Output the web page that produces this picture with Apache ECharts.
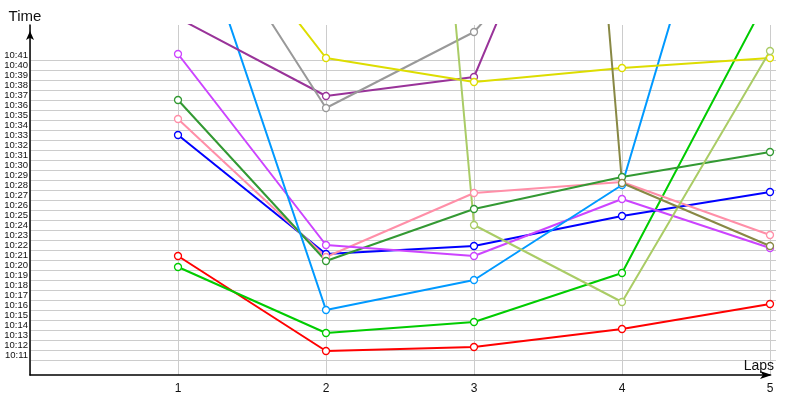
<!DOCTYPE html>
<html>
<head>
<meta charset="utf-8">
<script src="https://cdn.jsdelivr.net/npm/echarts@6/dist/echarts.min.js"></script>
<style>html,body{margin:0;padding:0;background:#fff;}#c{width:800px;height:400px;}</style>
</head>
<body>
<div id="c"></div>
<script>
// Lap numbers
var laps = [1, 2, 3, 4, 5];
// Lap times in seconds (10:41 = 641 s)
var red        = [620.9, 611.4, 611.8, 613.6, 616.1];
var green      = [619.8, 613.2, 614.3, 619.2, 647.2];
var blue       = [633.0, 621.1, 621.9, 624.9, 627.3];
var pink       = [634.6, 620.8, 627.2, 628.3, 623.0];
var darkGreen  = [636.5, 620.4, 625.6, 628.8, 631.3];
var magenta    = [641.1, 622.0, 620.9, 626.6, 621.7];
var lightBlue  = [659.4, 615.5, 618.5, 628.0, 677.8];
var purple     = [644.7, 636.9, 638.8, 674.0, 670.0];
var gray       = [658.8, 635.7, 643.3, 659.6, 655.0];
var yellow     = [659.8, 640.7, 638.3, 639.7, 640.7];
var lightGreen = [700.0, 786.8, 624.0, 616.3, 641.4];
var olive      = [760.0, 790.0, 804.3, 628.2, 621.9];
// Y tick label range (seconds)
var labelMin = 611, labelMax = 641;

var seriesDefs = [
  ['Red', red, '#ff0000'],
  ['Green', green, '#00cc00'],
  ['Blue', blue, '#0000ff'],
  ['Pink', pink, '#ff8fa8'],
  ['Dark green', darkGreen, '#339933'],
  ['Magenta', magenta, '#cc44ff'],
  ['Light blue', lightBlue, '#0099ff'],
  ['Purple', purple, '#993399'],
  ['Gray', gray, '#999999'],
  ['Yellow', yellow, '#dddd00'],
  ['Light green', lightGreen, '#aacc66'],
  ['Olive', olive, '#888844']
];

function fmt(v) {
  var m = Math.floor(v / 60), s = Math.round(v - m * 60);
  return m + ':' + (s < 10 ? '0' : '') + s;
}

var series = seriesDefs.map(function (d) {
  return {
    name: d[0],
    type: 'line',
    xAxisIndex: 0, yAxisIndex: 0,
    data: laps.map(function (l, i) { return [l, d[1][i]]; }),
    symbol: 'circle',
    symbolSize: 7,
    showSymbol: true,
    clip: true,
    color: d[2],
    lineStyle: { width: 2, color: d[2] },
    itemStyle: { color: '#fff', borderColor: d[2], borderWidth: 1.3 },
    emphasis: { disabled: true },
    animation: false
  };
});

var chart = echarts.init(document.getElementById('c'));
chart.setOption({
  animation: false,
  grid: [
    { left: 30, right: 30, top: 25, bottom: 25 },
    { left: 30, right: 24, top: 60, height: 300 }
  ],
  xAxis: [
    {
      type: 'value', gridIndex: 0, min: 0, max: 5, interval: 1,
      name: 'Laps', nameLocation: 'end', nameGap: 4,
      nameTextStyle: { fontSize: 14, color: '#111', fontFamily: 'Liberation Sans', align: 'right', verticalAlign: 'bottom', padding: [0, 0, 2, 0] },
      axisLine: { lineStyle: { color: '#000', width: 1.5 }, symbol: ['none', 'arrow'], symbolSize: [6, 12], symbolOffset: [0, 2] },
      axisTick: { show: false },
      splitLine: { show: true, lineStyle: { color: '#cccccc', width: 1 } },
      axisLabel: { fontSize: 12, color: '#111', fontFamily: 'Liberation Sans', margin: 8,
        formatter: function (v) { return (v >= 1 && v <= 5 && v === Math.round(v)) ? String(v) : ''; } }
    },
    { type: 'value', gridIndex: 1, min: 0, max: 1, show: false }
  ],
  yAxis: [
    {
      type: 'value', gridIndex: 0, min: 609, max: 644, interval: 1,
      name: 'Time', nameLocation: 'end', nameGap: 1,
      nameTextStyle: { fontSize: 15, color: '#111', fontFamily: 'Liberation Sans', padding: [0, 10, 0, 0] },
      axisLine: { lineStyle: { color: '#000', width: 1.5 }, symbol: ['none', 'arrow'], symbolSize: [6, 9], symbolOffset: [0, -6] },
      axisTick: { show: false },
      splitLine: { show: false },
      axisLabel: { fontSize: 9.5, color: '#111', fontFamily: 'Liberation Sans', margin: 2,
        formatter: function (v) { return (v >= labelMin && v <= labelMax) ? fmt(v) : ''; } }
    },
    {
      type: 'value', gridIndex: 1, min: 0, max: 30, interval: 1,
      axisLine: { show: false }, axisTick: { show: false }, axisLabel: { show: false },
      splitLine: { show: true, lineStyle: { color: '#cccccc', width: 1 } }
    }
  ],
  series: series
});
</script>
</body>
</html>
